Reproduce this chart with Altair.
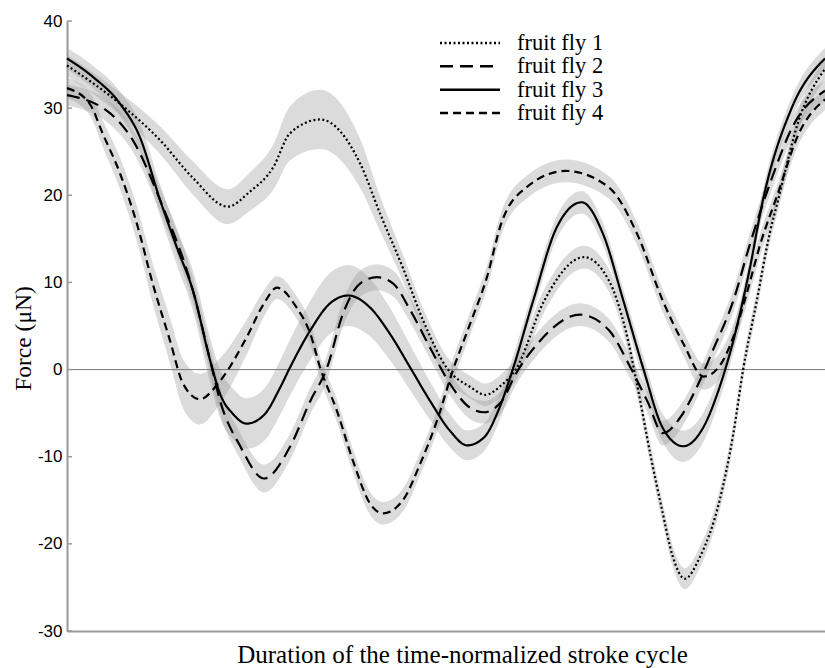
import altair as alt
import pandas as pd

FLIES = ["fruit fly 1", "fruit fly 2", "fruit fly 3", "fruit fly 4"]
DASHES = [[2, 2.5], [13, 7], [1, 0], [8, 5]]
Y_TICKS = [-30, -20, -10, 0, 10, 20, 30, 40]

# (x = % of stroke cycle, force in µN, half-width of grey band)
FLY1 = [(0, 34.9, 1.2), (7.0, 30.5, 1.3), (12.3, 26.3, 1.6), (16.6, 22.0, 1.9), (21.2, 18.7, 2.0),
        (24.1, 20.4, 2.2), (27.2, 23.2, 2.6), (29.4, 27.1, 3.1), (33.4, 28.7, 3.4), (38.7, 23.6, 2.8),
        (41.3, 17.9, 2.0), (44.3, 11.7, 1.5), (47.0, 5.6, 1.4), (50.1, 0.2, 1.3), (53.2, -2.0, 1.3),
        (55.2, -2.9, 1.3), (57.3, -1.8, 1.3), (59.2, 0.0, 1.3), (62.9, 7.8, 1.3), (68.2, 12.9, 1.3),
        (71.5, 10.2, 1.3), (73.7, 4.5, 1.3), (75.2, -1.7, 1.2), (77.0, -9.9, 1.2), (78.5, -16.1, 1.2),
        (79.9, -21.4, 1.2), (81.5, -24.0, 1.2), (83.5, -21.5, 1.2), (86.1, -15.0, 1.2), (87.9, -7.4, 1.2),
        (89.2, 0.0, 1.2), (91.0, 7.9, 1.2), (92.7, 15.6, 1.2), (93.8, 19.4, 1.2), (96.5, 28.5, 1.2),
        (100, 34.5, 1.2)]

FLY2 = [(0, 31.5, 1.2), (5.7, 29.4, 1.3), (8.7, 26.3, 1.3), (12.3, 19.4, 1.4), (16.6, 9.1, 1.5),
        (18.9, 1.0, 1.5), (20.2, -3.6, 1.5), (22.8, -8.7, 1.5), (26.0, -12.5, 1.6), (29.4, -8.9, 1.5),
        (32.1, -3.6, 1.5), (34.3, 0.2, 1.5), (36.4, 6.4, 1.5), (38.7, 9.9, 1.5), (40.9, 10.6, 1.5),
        (43.0, 9.9, 1.5), (45.3, 6.8, 1.4), (47.9, 2.5, 1.3), (50.5, -1.6, 1.3), (53.2, -4.4, 1.3),
        (55.0, -4.9, 1.3), (57.3, -3.7, 1.3), (59.2, -0.5, 1.3), (62.0, 2.9, 1.3), (67.7, 6.3, 1.3),
        (71.5, 4.5, 1.3), (74.3, 0.3, 1.3), (76.6, -3.7, 1.3), (78.6, -7.3, 1.4), (80.9, -5.5, 1.4),
        (83.1, -2.0, 1.3), (85.2, 2.2, 1.3), (87.9, 7.9, 1.3), (90.1, 14.4, 1.3), (92.8, 21.5, 1.3),
        (95.8, 28.0, 1.2), (100, 32.0, 1.2)]

FLY3 = [(0, 35.7, 1.2), (3.4, 33.6, 1.3), (7.0, 30.5, 1.4), (9.6, 26.7, 1.6), (12.3, 19.4, 1.8),
        (14.5, 14.0, 2.0), (16.6, 9.1, 2.3), (18.9, 1.0, 2.6), (20.2, -2.8, 2.8), (21.9, -5.1, 2.9),
        (23.7, -6.2, 2.9), (26.0, -5.2, 3.0), (28.1, -2.1, 3.1), (29.4, 0.2, 3.2), (32.1, 4.5, 3.4),
        (34.7, 7.6, 3.5), (37.1, 8.5, 3.5), (40.0, 7.1, 3.3), (42.6, 4.1, 3.0), (45.3, 0.2, 2.6),
        (47.9, -3.6, 2.2), (50.5, -7.0, 1.9), (52.8, -8.7, 1.7), (55.0, -7.8, 1.6), (57.0, -4.5, 1.5),
        (58.8, 0.0, 1.4), (61.5, 7.9, 1.3), (64.6, 16.3, 1.3), (67.9, 19.2, 1.3), (70.7, 15.6, 1.3),
        (73.4, 7.9, 1.3), (76.0, 0.2, 1.4), (78.6, -6.7, 1.6), (81.3, -8.8, 1.8), (83.9, -6.7, 1.7),
        (86.1, -2.0, 1.5), (87.9, 3.3, 1.4), (90.1, 11.7, 1.3), (91.8, 19.4, 1.2), (95.6, 30.0, 1.2),
        (100, 35.7, 1.2)]

FLY4 = [(0, 32.3, 1.2), (3.0, 30.5, 1.3), (4.7, 27.1, 1.5), (7.0, 22.5, 1.8), (9.2, 16.8, 2.0),
        (11.3, 9.9, 2.3), (13.6, 3.3, 2.6), (15.3, -1.6, 2.8), (17.5, -3.4, 2.9), (20.2, -1.3, 2.6),
        (23.7, 3.7, 2.0), (26.0, 7.6, 1.5), (27.7, 9.4, 1.3), (30.3, 7.1, 1.3), (32.1, 4.1, 1.3),
        (33.4, 0.2, 1.3), (35.6, -4.7, 1.3), (37.7, -10.4, 1.3), (40.0, -15.4, 1.3), (41.7, -16.5, 1.3),
        (44.3, -15.0, 1.3), (46.6, -10.8, 1.3), (48.8, -5.9, 1.3), (50.9, -0.1, 1.3), (53.2, 5.3, 1.3),
        (55.4, 10.6, 1.3), (57.3, 16.8, 1.3), (60.6, 20.9, 1.3), (65.8, 22.8, 1.3), (71.5, 20.9, 1.3),
        (75.2, 15.6, 1.3), (78.6, 7.9, 1.3), (81.3, 3.0, 1.4), (84.0, -0.8, 1.5), (86.0, 0.3, 1.5),
        (87.8, 3.5, 1.4), (89.6, 8.5, 1.3), (91.5, 14.5, 1.3), (93.7, 20.0, 1.2), (96.5, 27.0, 1.2),
        (100, 31.0, 1.2)]

rows = []
for name, pts in zip(FLIES, [FLY1, FLY2, FLY3, FLY4]):
    for x, y, w in pts:
        rows.append({"fly": name, "x": x, "y": y, "lo": y - w, "hi": y + w})
df = pd.DataFrame(rows)
legdf = pd.DataFrame({"fly": FLIES})

SERIF = "Liberation Serif"
SANS = "Liberation Sans"

xs = alt.Scale(domain=[0, 100], nice=False, zero=False)
ys = alt.Scale(domain=[-30, 40], nice=False, zero=False)
dash_scale = alt.Scale(domain=FLIES, range=DASHES)

x_axis = alt.Axis(title="Duration of the time-normalized stroke cycle", labels=False, ticks=False,
                  grid=False, domainColor="#999999", domainWidth=2,
                  titleFont=SERIF, titleFontSize=25, titleFontWeight="normal", titleColor="black",
                  titleX=395, titleY=31, titleBaseline="alphabetic", titleAlign="center")
y_axis = alt.Axis(title="Force (μN)", values=Y_TICKS, ticks=False, grid=False,
                  domainColor="#999999", domainWidth=2,
                  labelFont=SANS, labelFontSize=17, labelColor="black", labelPadding=5,
                  labelExpr="toString(datum.value)",
                  titleFont=SERIF, titleFontSize=23.5, titleFontWeight="normal", titleColor="black",
                  titleAngle=-90, titleX=-37, titleY=317, titleBaseline="alphabetic",
                  titleAlign="center")

band = alt.Chart(df).mark_area(interpolate="monotone", color="#999999", opacity=0.35).encode(
    x=alt.X("x:Q", scale=xs, axis=x_axis),
    y=alt.Y("lo:Q", scale=ys, axis=y_axis),
    y2="hi:Q",
    detail="fly:N",
)

zero = alt.Chart(pd.DataFrame({"y": [0]})).mark_rule(color="#777777", strokeWidth=1).encode(
    y=alt.Y("y:Q", scale=ys, axis=y_axis)
)

ticks = alt.Chart(pd.DataFrame({"y": Y_TICKS})).mark_rule(color="#999999", strokeWidth=1.5).encode(
    y=alt.Y("y:Q", scale=ys, axis=y_axis), x=alt.value(0), x2=alt.value(5)
)

lines = alt.Chart(df).mark_line(interpolate="monotone", color="black", strokeWidth=2.2).encode(
    x=alt.X("x:Q", scale=xs, axis=x_axis),
    y=alt.Y("y:Q", scale=ys, axis=y_axis),
    strokeDash=alt.StrokeDash("fly:N", scale=dash_scale, legend=None),
)

leg_y = alt.Y("fly:N", scale=alt.Scale(type="point", domain=FLIES, range=[22, 92], padding=0),
              axis=None)

leg_rule = alt.Chart(legdf).mark_rule(color="black", strokeWidth=2.5).encode(
    x=alt.value(373), x2=alt.value(433), y=leg_y,
    strokeDash=alt.StrokeDash("fly:N", scale=dash_scale, legend=None),
)
leg_text = alt.Chart(legdf).mark_text(align="left", baseline="middle", font=SERIF, fontSize=22.5,
                                      color="black").encode(
    x=alt.value(450), y=leg_y, text="fly:N"
)

main = alt.layer(band, zero, ticks, lines)
legend = alt.layer(leg_rule, leg_text)

chart = alt.layer(main, legend).resolve_scale(y="independent").properties(
    width=758, height=610,
    autosize=alt.AutoSizeParams(type="none"),
    padding={"left": 67, "top": 21, "right": 0, "bottom": 37},
).configure_view(stroke=None)

chart.save("out.html", embed_options={"renderer": "svg", "actions": False})
